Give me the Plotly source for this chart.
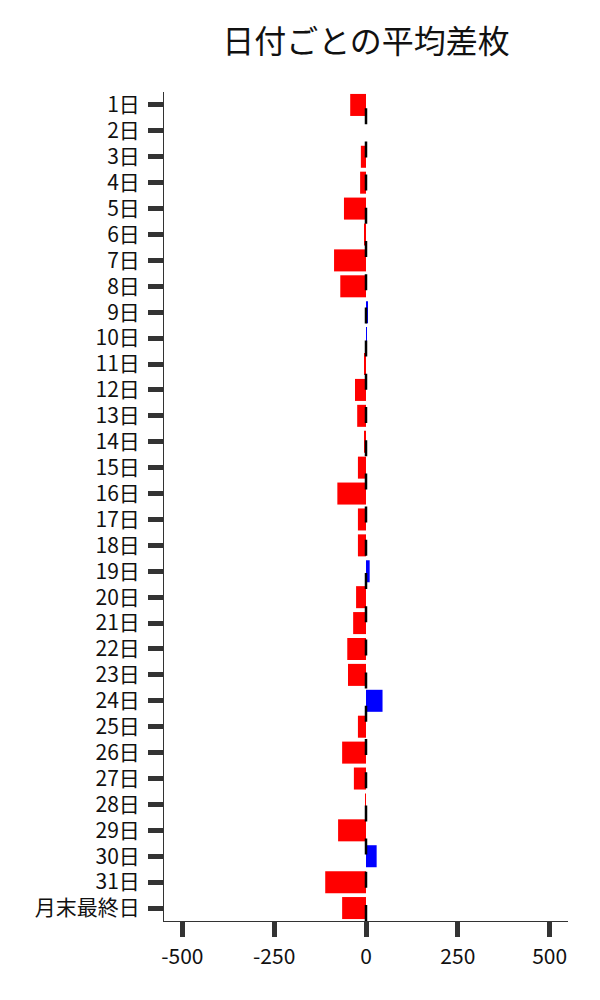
import plotly.graph_objects as go

categories = [f"{d}日" for d in range(1, 32)] + ["月末最終日"]
values = [-43, 0, -14, -16, -60, -5, -87, -70, 3, 1, -4,
          -30, -24, -3, -22, -78, -22, -22, 10, -27, -35,
          -51, -49, 45, -22, -65, -33, -2, -76, 29, -111, -65]
colors = ["#0000FF" if v > 0 else "#FF0000" for v in values]
x_ticks = [-500, -250, 0, 250, 500]

font_family = "Noto Sans CJK JP, Noto Sans, sans-serif"

fig = go.Figure(go.Bar(
    x=values, y=categories, orientation="h",
    marker=dict(color=colors, line=dict(width=0)),
))

fig.add_shape(type="line", xref="x", yref="paper", x0=0, x1=0, y0=0, y1=1,
              line=dict(color="black", width=2.5, dash="16px,17.2px"))

fig.update_layout(
    width=600, height=1000,
    margin=dict(l=156, r=40, t=84, b=87),
    paper_bgcolor="white", plot_bgcolor="white",
    bargap=0.15,
    showlegend=False,
    font=dict(family=font_family, size=21, color="#111"),
    title=dict(text="日付ごとの平均差枚", x=0.5, xref="paper", xanchor="center",
               y=1 - 34 / 1000, yref="container", yanchor="middle",
               font=dict(size=32, family=font_family, color="#111")),
)
fig.update_xaxes(range=[-550, 550], tickvals=x_ticks, ticktext=[str(t) for t in x_ticks],
                 showgrid=False, zeroline=False, showline=True, linecolor="#333", linewidth=1,
                 ticks="outside", ticklen=15, tickwidth=5, tickcolor="#333",
                 tickfont=dict(size=21, family=font_family), ticklabelstandoff=2)
fig.update_yaxes(autorange="reversed", showgrid=False, zeroline=False,
                 showline=True, linecolor="#333", linewidth=1,
                 ticks="outside", ticklen=15, tickwidth=5, tickcolor="#333",
                 tickfont=dict(size=21, family=font_family), ticklabelstandoff=4)

fig.write_html("out.html")
